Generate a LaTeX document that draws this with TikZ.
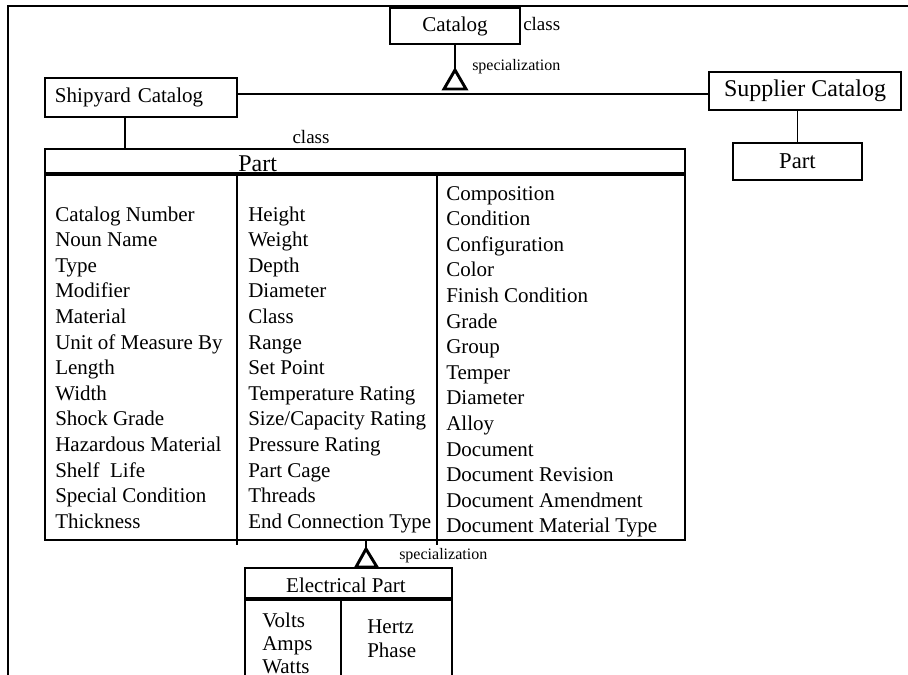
\documentclass[tikz,border=0pt]{standalone}
\usepackage{fontspec}
\setmainfont{Liberation Serif}
\begin{document}
\begin{tikzpicture}[x=0.75pt,y=-0.75pt,
  frame/.style={line width=1.4pt},
  box/.style={draw, line width=1.4pt, inner sep=0pt, font=\fontsize{15.75}{19}\selectfont},
  link/.style={line width=1.4pt},
  tri/.style={draw, line width=2.2pt, line join=miter},
  sep/.style={line width=2.6pt},
  attr/.style={anchor=base west, inner sep=0pt, font=\fontsize{15.75}{19}\selectfont},
  tag/.style={inner sep=0pt, font=\fontsize{12}{14}\selectfont},
  kind/.style={inner sep=0pt, font=\fontsize{14.25}{16}\selectfont}]
\useasboundingbox (0,0) rectangle (908,675);
\clip (0,0) rectangle (908,675);

% outer frame
\draw[frame] (8,690) -- (8,6) -- (920,6);

% catalog hierarchy
\node[box, minimum width=97.5pt, minimum height=27pt] (cat) at (455,26) {Catalog};
\node[kind, anchor=west] (catkind) at (523,24) {class};
\node[box, minimum width=144pt, minimum height=29.25pt, text width=129pt, align=left, inner xsep=7.5pt] (ship) at (141,97.5) {Shipyard Catalog};
\node[box, minimum width=144pt, minimum height=28.5pt, font=\fontsize{18}{21}\selectfont] (sup) at (805,91) {Supplier Catalog};
\node[box, minimum width=96.75pt, minimum height=27.75pt, font=\fontsize{17}{20}\selectfont] (rpart) at (797.5,161.5) {Part};

\coordinate (apex) at (455,70);
\coordinate (hl) at (0,94);
\draw[tri] (apex) -- (444,89) -- (466,89) -- cycle;
\draw[link] (cat.south -| apex) -- (apex);
\node[tag, anchor=west] (spec1) at (472,67) {specialization};
\draw[link] (ship.east |- hl) -- (sup.west |- hl);
\draw[link] (sup.south -| rpart.north) -- (rpart.north);

% Part class table
\node[draw, line width=1.4pt, minimum width=480pt, minimum height=293.25pt, inner sep=0pt] (part) at (365,344.5) {};
\node[kind] (partkind) at (311,137) {class};
\coordinate (sx) at (125,0);
\draw[link] (ship.south -| sx) -- (part.north -| sx);
\draw[sep] (part.west |- 0,174) -- (part.east |- 0,174);
\node[anchor=base west, inner sep=0pt, font=\fontsize{18}{21}\selectfont] (parthead) at (238,171) {Part};
\draw[link] (237,174) -- (237,545);
\draw[link] (437,174) -- (437,545);

\foreach \t [count=\i from 0] in {Catalog Number, Noun Name, Type, Modifier, Material,
  Unit of Measure By, Length, Width, Shock Grade, Hazardous Material, {Shelf\ \ Life},
  Special Condition, Thickness}
  \node[attr] (ca\i) at (55,{221+25.6*\i}) {\t};
\foreach \t [count=\i from 0] in {Height, Weight, Depth, Diameter, Class, Range, Set Point,
  Temperature Rating, Size/Capacity Rating, Pressure Rating, Part Cage, Threads,
  End Connection Type}
  \node[attr] (cb\i) at (248,{221+25.6*\i}) {\t};
\foreach \t [count=\i from 0] in {Composition, Condition, Configuration, Color,
  Finish Condition, Grade, Group, Temper, Diameter, Alloy, Document,
  Document Revision, Document Amendment, Document Material Type}
  \node[attr] (cc\i) at (446,{200+25.6*\i}) {\t};

% Electrical Part subclass
\node[draw, line width=1.4pt, minimum width=155.25pt, minimum height=91.5pt, inner sep=0pt] (elec) at (348.5,629) {};
\coordinate (apex2) at (366,549);
\draw[tri] (apex2) -- (356,567) -- (377,567) -- cycle;
\draw[link] (part.south -| apex2) -- (apex2);
\node[tag, anchor=west] (spec2) at (399,556) {specialization};
\node[inner sep=0pt, font=\fontsize{15.75}{19}\selectfont] (elechead) at (346,585) {Electrical Part};
\draw[sep] (elec.west |- 0,599) -- (elec.east |- 0,599);
\draw[link] (341,599) -- (341,690);
\foreach \t [count=\i from 0] in {Volts, Amps, Watts}
  \node[attr] (ea\i) at (262,{627+23*\i}) {\t};
\foreach \t [count=\i from 0] in {Hertz, Phase}
  \node[attr] (eb\i) at (367,{633+24*\i}) {\t};
\end{tikzpicture}
\end{document}
